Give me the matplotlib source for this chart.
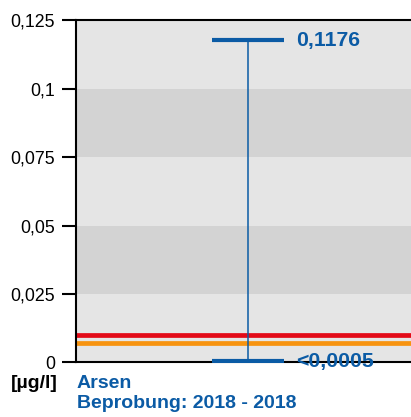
import matplotlib.pyplot as plt

plt.rcParams["font.family"] = ["Liberation Sans", "DejaVu Sans"]

# values
substance = "Arsen"
period = "Beprobung: 2018 - 2018"
unit = "[µg/l]"
value_min = 0.0005
value_max = 0.1176
label_min = "<0,0005"
label_max = "0,1176"
limit_red = 0.01
limit_orange = 0.007
y_ticks = [0, 0.025, 0.05, 0.075, 0.1, 0.125]
y_tick_labels = ["0", "0,025", "0,05", "0,075", "0,1", "0,125"]

blue = "#0b5ba5"

fig = plt.figure(figsize=(4.11, 4.17), dpi=100)
ax = fig.add_axes([0.185, 0.1307, 0.815, 0.8213])

# alternating background bands
for i in range(len(y_ticks) - 1):
    shade = "#e5e5e5" if i % 2 == 0 else "#d3d3d3"
    ax.axhspan(y_ticks[i], y_ticks[i + 1], color=shade, lw=0, zorder=0)

ax.axhline(limit_red, color="#e30a17", lw=3.4, zorder=2)
ax.axhline(limit_orange, color="#f7930f", lw=3.4, zorder=2)

x = 0.512
mid = (value_min + value_max) / 2
ax.errorbar(
    [x], [mid],
    yerr=[[mid - value_min], [value_max - mid]],
    fmt="none",
    ecolor=blue,
    elinewidth=1.1,
    capsize=25.6,
    capthick=3,
    zorder=3
)

ax.text(0.657, value_max, label_max, color=blue, fontsize=15.3,
        fontweight="bold", va="center", ha="left")
ax.text(0.657, value_min, label_min, color=blue, fontsize=15.3,
        fontweight="bold", va="center", ha="left", zorder=4)

ax.set_xlim(0, 1)
ax.set_ylim(0, 0.125)
ax.set_xticks([])
ax.set_yticks(y_ticks)
ax.set_yticklabels(y_tick_labels, fontsize=12.8)
ax.tick_params(axis="y", length=10, width=1.5, pad=5)

ax.spines["right"].set_visible(False)
for side in ["left", "top", "bottom"]:
    ax.spines[side].set_linewidth(1.5)

fig.text(11 / 411, 1 - 388 / 417, unit, fontsize=14, fontweight="bold",
         color="black", ha="left", va="baseline")
fig.text(77 / 411, 1 - 388 / 417, substance, fontsize=14, fontweight="bold",
         color=blue, ha="left", va="baseline")
fig.text(77 / 411, 1 - 408 / 417, period, fontsize=14, fontweight="bold",
         color=blue, ha="left", va="baseline")

fig.savefig("out.png", dpi=100)
plt.close(fig)
